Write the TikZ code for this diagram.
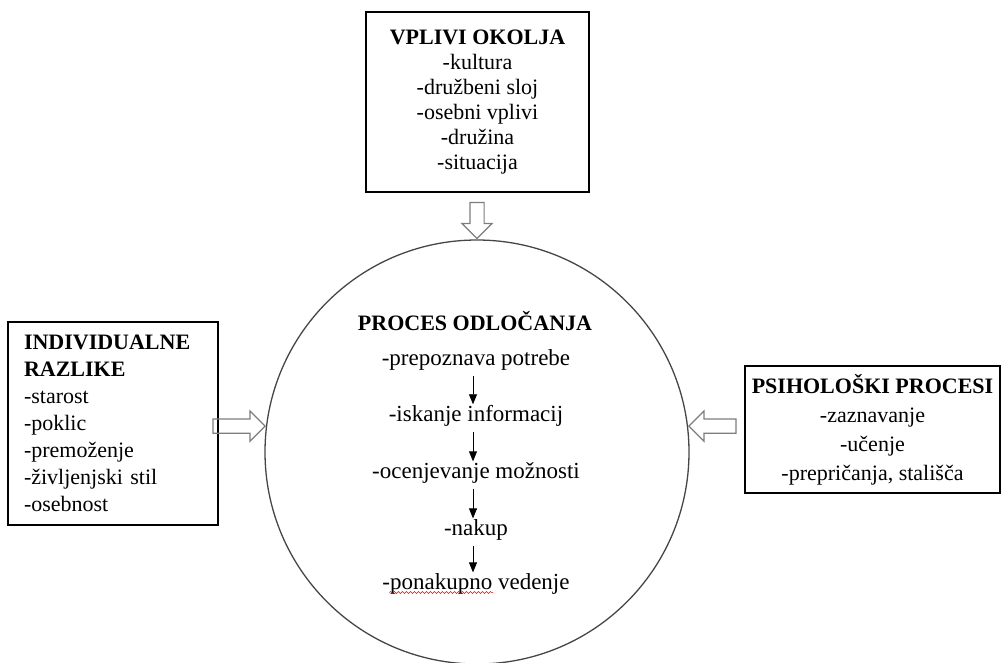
\documentclass[tikz,border=0pt]{standalone}
\usepackage{fontspec}
\setmainfont{Liberation Serif}
\usetikzlibrary{shapes.arrows,arrows.meta,decorations.pathmorphing}
\definecolor{arrowgray}{RGB}{125,125,125}
\definecolor{ringgray}{RGB}{70,70,70}
\begin{document}
\begin{tikzpicture}[x=1pt,y=-1pt,
  box/.style={draw,line width=1.4pt,inner sep=0pt},
  txt/.style={font=\fontsize{22}{25}\selectfont},
  blockarrow/.style={single arrow,draw=arrowgray,line width=1.2pt,inner sep=6.5pt,single arrow head extend=8pt},
  stage/.style={inner sep=1pt,font=\fontsize{23}{26}\selectfont},
  flow/.style={-{Triangle[length=10pt,width=8pt]},line width=0.8pt,shorten <=4pt},
  squiggle/.style={red,line width=0.5pt,decorate,decoration={snake,segment length=4pt,amplitude=1pt}}]
\useasboundingbox (0,0) rectangle (1002,662);
\node[circle,draw=ringgray,line width=1.3pt,minimum size=424pt,inner sep=0pt] (proc) at (477,452) {};
\node[box,txt,minimum width=223pt,minimum height=180pt,align=center] (env) at (477.5,102)
  {\textbf{VPLIVI OKOLJA}\\-kultura\\-družbeni sloj\\-osebni vplivi\\-družina\\-situacija};
\node[box,font=\fontsize{22}{27}\selectfont,minimum width=210pt,minimum height=203pt,text width=178pt,align=left] (indiv) at (113,423.5)
  {\textbf{INDIVIDUALNE}\\\textbf{RAZLIKE}\\-starost\\-poklic\\-premoženje\\-življenjski stil\\-osebnost};
\node[box,font=\fontsize{22}{29}\selectfont,minimum width=255pt,minimum height=127pt,align=center] (psych) at (872.5,429.5)
  {\textbf{PSIHOLOŠKI PROCESI}\\-zaznavanje\\-učenje\\-prepričanja, stališča};
\node[blockarrow,minimum height=36pt,rotate=-90,anchor=tip] (atop) at (proc.north) {};
\node[blockarrow,minimum height=52pt,anchor=tip] (aleft) at (proc.173) {};
\node[blockarrow,minimum height=47pt,rotate=180,anchor=tip] (aright) at (proc.7) {};
\node[txt,inner sep=1pt,font=\fontsize{22}{25}\selectfont\bfseries] (title) at (475,321) {PROCES ODLOČANJA};
\node[stage] (s1) at (476,360) {-prepoznava potrebe};
\node[stage] (s2) at (476,416) {-iskanje informacij};
\node[stage] (s3) at (476,473) {-ocenjevanje možnosti};
\node[stage] (s4) at (476,530) {-nakup};
\node[stage] (s5) at (476,584) {-ponakupno vedenje};
\coordinate (axis) at (473,0);
\foreach \a/\b in {s1/s2,s2/s3,s3/s4,s4/s5}
  \draw[flow] (\a.south -| axis) -- (\b.north -| axis);
\draw[squiggle] ([xshift=8pt,yshift=-3pt]s5.base west) -- ++(104,0);
\end{tikzpicture}
\end{document}
